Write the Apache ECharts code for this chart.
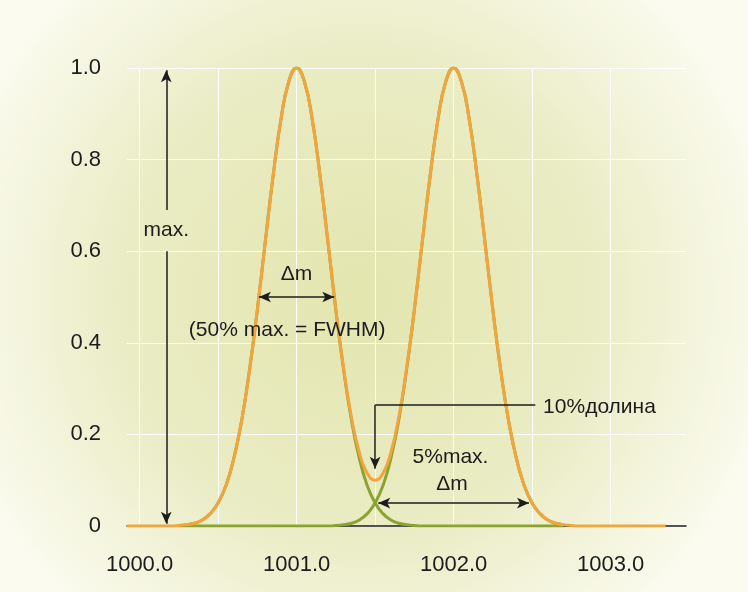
<!DOCTYPE html>
<html>
<head>
<meta charset="utf-8">
<script src="https://cdn.jsdelivr.net/npm/echarts@6/dist/echarts.min.js"></script>
<style>
  html, body { margin: 0; padding: 0; }
  #chart { width: 748px; height: 592px; }
</style>
</head>
<body>
<div id="chart"></div>
<script>
// mass axis (step 0.05 between 1000.20 and 1002.80)
var massX = [
  1000.20, 1000.25, 1000.30, 1000.35, 1000.40, 1000.45, 1000.50, 1000.55, 1000.60, 1000.65,
  1000.70, 1000.75, 1000.80, 1000.85, 1000.90, 1000.95, 1001.00, 1001.05, 1001.10, 1001.15,
  1001.20, 1001.25, 1001.30, 1001.35, 1001.40, 1001.45, 1001.50, 1001.55, 1001.60, 1001.65,
  1001.70, 1001.75, 1001.80, 1001.85, 1001.90, 1001.95, 1002.00, 1002.05, 1002.10, 1002.15,
  1002.20, 1002.25, 1002.30, 1002.35, 1002.40, 1002.45, 1002.50, 1002.55, 1002.60, 1002.65,
  1002.70, 1002.75, 1002.80
];
// first peak (green)
var peak1 = [
  null, 0.001, 0.003, 0.006, 0.013, 0.027, 0.05, 0.088, 0.147, 0.23,
  0.34, 0.472, 0.619, 0.763, 0.887, 0.97, 1.0, 0.97, 0.887, 0.763,
  0.619, 0.472, 0.34, 0.23, 0.147, 0.088, 0.05, 0.027, 0.013, 0.006,
  0.003, 0.001, 0, 0, 0, 0, 0, 0, 0, 0,
  0, 0, 0, 0, 0, 0, 0, 0, 0, 0,
  0, null, null
];
// second peak (green)
var peak2 = [
  null, 0, 0, 0, 0, 0, 0, 0, 0, 0,
  0, 0, 0, 0, 0, 0, 0, 0, 0, 0,
  0, 0.001, 0.003, 0.006, 0.013, 0.027, 0.05, 0.088, 0.147, 0.23,
  0.34, 0.472, 0.619, 0.763, 0.887, 0.97, 1.0, 0.97, 0.887, 0.763,
  0.619, 0.472, 0.34, 0.23, 0.147, 0.088, 0.05, 0.027, 0.013, 0.006,
  0.003, null, null
];
// measured signal (orange), flat ends added separately
var signal = [
  0, 0.001, 0.003, 0.006, 0.013, 0.027, 0.05, 0.088, 0.147, 0.23,
  0.34, 0.472, 0.619, 0.763, 0.887, 0.97, 1.0, 0.97, 0.887, 0.763,
  0.619, 0.473, 0.343, 0.236, 0.16, 0.115, 0.1, 0.115, 0.16, 0.236,
  0.343, 0.473, 0.619, 0.763, 0.887, 0.97, 1.0, 0.97, 0.887, 0.763,
  0.619, 0.472, 0.34, 0.23, 0.147, 0.088, 0.05, 0.027, 0.013, 0.006,
  0.003, 0.001, 0
];
var signalStart = [999.92, 0];
var signalEnd = [1003.35, 0];

var xTicks = [1000.0, 1001.0, 1002.0, 1003.0];
var yTicks = [0, 0.2, 0.4, 0.6, 0.8, 1.0];

function zip(xs, ys) {
  var out = [];
  for (var i = 0; i < xs.length; i++) out.push([xs[i], ys[i]]);
  return out;
}

var textColor = '#1c1c1c';
var fontFamily = '"Liberation Sans", Arial, sans-serif';

function arrowLine(x1, y1, x2, y2, s1, s2) {
  return [
    { coord: [x1, y1], symbol: s1 },
    { coord: [x2, y2], symbol: s2 }
  ];
}
function note(x, y, text, align) {
  return {
    coord: [x, y], name: text, value: 0,
    symbol: 'circle', symbolSize: 0,
    label: {
      show: true, position: 'inside', formatter: '{b}',
      color: textColor, fontSize: 21, fontFamily: fontFamily,
      align: align || 'center', verticalAlign: 'middle'
    }
  };
}

var myChart = echarts.init(document.getElementById('chart'));
var option = {
  animation: false,
  backgroundColor: new echarts.graphic.RadialGradient(0.48, 0.5, 0.72, [
    { offset: 0, color: '#e3e6ae' },
    { offset: 0.55, color: '#eaecc4' },
    { offset: 1, color: '#fbfbf0' }
  ]),
  grid: { left: 127, right: 62, top: 68, bottom: 66 },
  xAxis: {
    type: 'value',
    min: 999.92,
    max: 1003.48,
    splitNumber: 7,
    axisLine: { show: true, lineStyle: { color: '#1c1c1c', width: 1.5 } },
    axisTick: { show: false },
    axisLabel: {
      margin: 28,
      color: textColor, fontSize: 22, fontFamily: fontFamily,
      showMinLabel: false, showMaxLabel: false,
      formatter: function (v) {
        for (var i = 0; i < xTicks.length; i++) {
          if (Math.abs(v - xTicks[i]) < 1e-6) return xTicks[i].toFixed(1);
        }
        return '';
      }
    },
    splitLine: {
      show: true, showMinLine: false, showMaxLine: false,
      lineStyle: { color: '#ffffff', width: 1 }
    }
  },
  yAxis: {
    type: 'value',
    min: 0,
    max: 1,
    interval: 0.2,
    axisLine: { show: false },
    axisTick: { show: false },
    axisLabel: {
      margin: 26,
      color: textColor, fontSize: 22, fontFamily: fontFamily,
      formatter: function (v) {
        for (var i = 0; i < yTicks.length; i++) {
          if (Math.abs(v - yTicks[i]) < 1e-6) return yTicks[i] === 0 ? '0' : yTicks[i].toFixed(1);
        }
        return '';
      }
    },
    splitLine: { show: true, lineStyle: { color: '#ffffff', width: 1 } }
  },
  series: [
    {
      name: 'peak1', type: 'line', smooth: true, showSymbol: false,
      data: zip(massX, peak1),
      lineStyle: { color: '#8ca331', width: 3 }, z: 2
    },
    {
      name: 'peak2', type: 'line', smooth: true, showSymbol: false,
      data: zip(massX, peak2),
      lineStyle: { color: '#8ca331', width: 3 }, z: 2
    },
    {
      name: 'signal', type: 'line', smooth: true, showSymbol: false,
      data: [signalStart].concat(zip(massX, signal), [signalEnd]),
      lineStyle: { color: '#f2a53d', width: 3 }, z: 3,
      markLine: {
        silent: true,
        symbolSize: [8, 12],
        label: { show: false },
        lineStyle: { color: '#1c1c1c', width: 1.5, type: 'solid' },
        data: [
          arrowLine(1000.17, 0.69, 1000.17, 0.995, 'none', 'arrow'),
          arrowLine(1000.17, 0.60, 1000.17, 0.005, 'none', 'arrow'),
          arrowLine(1000.76, 0.5, 1001.24, 0.5, 'arrow', 'arrow'),
          arrowLine(1002.52, 0.264, 1001.5, 0.264, 'none', 'none'),
          arrowLine(1001.5, 0.264, 1001.5, 0.125, 'none', 'arrow'),
          arrowLine(1001.52, 0.05, 1002.48, 0.05, 'arrow', 'arrow')
        ]
      },
      markPoint: {
        silent: true,
        data: [
          note(1000.17, 0.645, 'max.'),
          note(1001.0, 0.55, 'Δm'),
          note(1000.94, 0.428, '(50% max. = FWHM)'),
          note(1002.57, 0.26, '10%долина', 'left'),
          note(1001.98, 0.151, '5%max.'),
          note(1001.99, 0.092, 'Δm')
        ]
      }
    }
  ]
};
myChart.setOption(option);
</script>
</body>
</html>
